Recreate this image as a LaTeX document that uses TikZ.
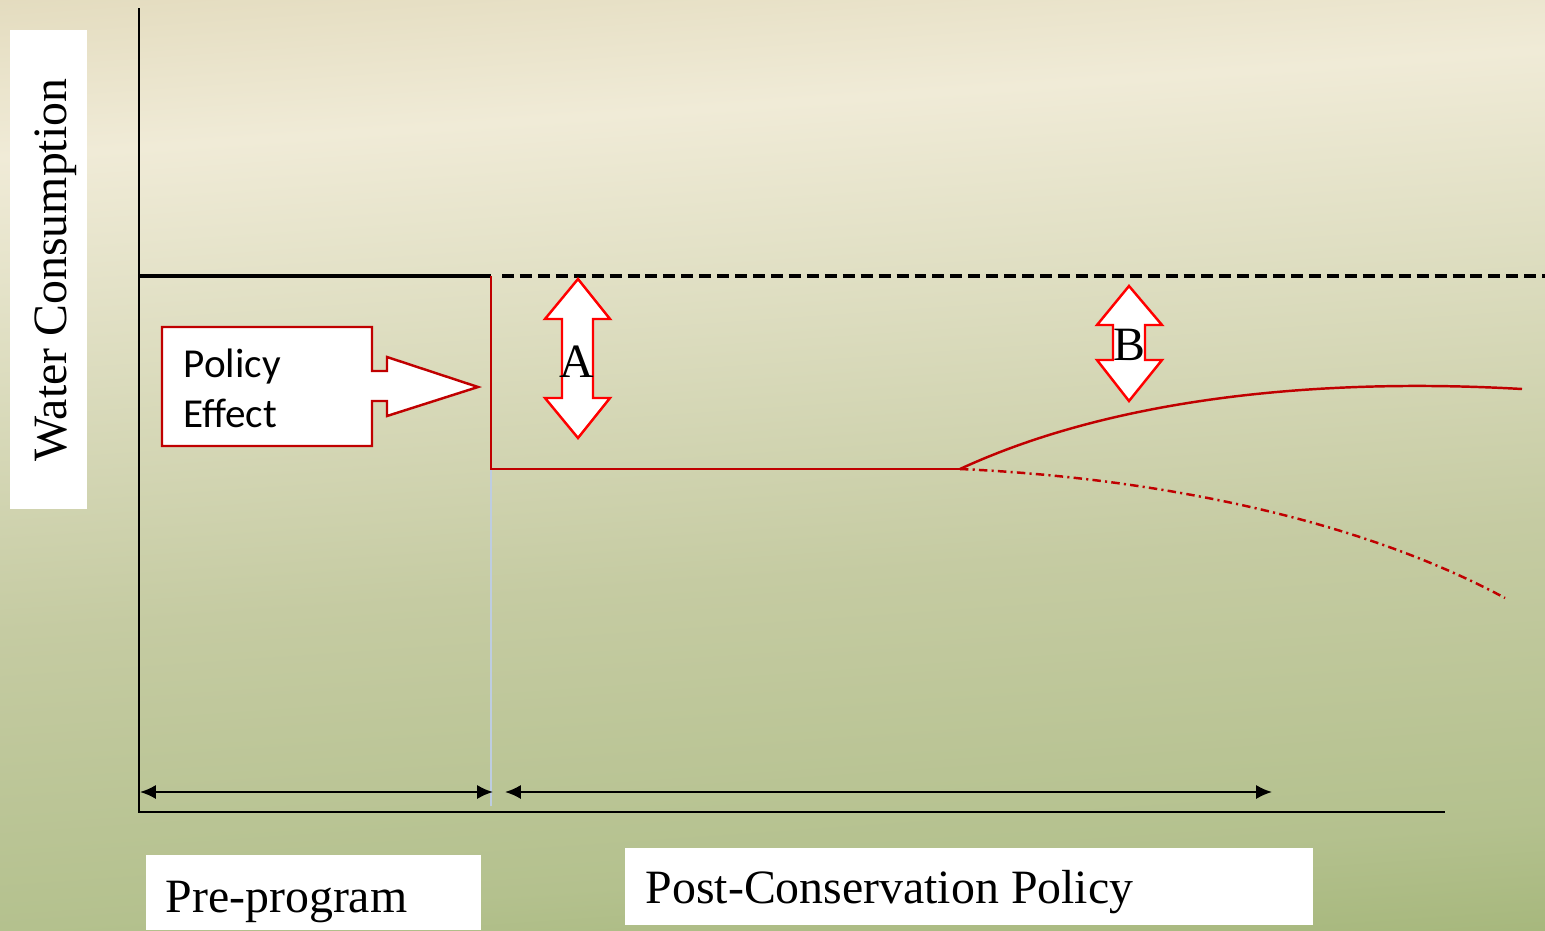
\documentclass[tikz,border=0pt]{standalone}
\usepackage{fontspec}
\setmainfont{Liberation Serif}
\newfontfamily\calibri{Carlito}
\usetikzlibrary{arrows.meta}

\definecolor{bgtan}{RGB}{226,218,188}
\definecolor{bgcream}{RGB}{240,235,215}
\definecolor{bgsage}{RGB}{197,203,162}
\definecolor{bgolive}{RGB}{180,193,142}
\definecolor{bggreen}{RGB}{163,181,120}
\definecolor{darkred}{RGB}{192,0,0}
\definecolor{gridblue}{RGB}{190,205,225}

% backdrop: tan at the top, a cream band, fading to olive green
\pgfdeclareverticalshading{backdrop}{100bp}{%
  color(0bp)=(bggreen); color(25bp)=(bggreen); color(31.4bp)=(bgolive);
  color(44.9bp)=(bgsage); color(66.4bp)=(bgcream); color(74.5bp)=(bgtan);
  color(100bp)=(bgtan)}

\tikzset{
  axis/.style={black, line width=0.6pt},
  baseline level/.style={black, line width=1.1pt},
  policy line/.style={darkred, line width=0.7pt},
  span arrow/.style={black, line width=0.6pt, {Latex[length=4.5pt,width=4pt]}-{Latex[length=4.5pt,width=4pt]}},
  gap arrow/.style={red, line width=0.7pt, fill=white, line join=miter},
  serif label/.style={font=\fontsize{13.6}{16}\selectfont, inner sep=0pt},
  callout text/.style={font=\calibri\fontsize{11.7}{14}\selectfont, inner sep=0pt}
}

\begin{document}
\begin{tikzpicture}[x=0.01cm, y=-0.01cm]
  % background
  \useasboundingbox (0,0) rectangle (1545,930);
  \begin{scope}
    \clip (0,0) rectangle (1545,930);
    \begin{scope}[transform canvas={rotate around={4:(772,465)}}]
      \shade[shading=backdrop] (-128,-85) rectangle (1672,1015);
    \end{scope}
  \end{scope}

  % axes
  \coordinate (origin) at (139,812);
  \coordinate (ytop) at (139,8);
  \coordinate (xend) at (1445,812);
  \draw[axis] (ytop) -- (origin) -- (xend);

  % vertical time marker
  \coordinate (mtop) at (491,469);
  \coordinate (mbot) at (491,806);
  \draw[gridblue, line width=0.5pt] (mtop) -- (mbot);

  % baseline consumption
  \coordinate (b0) at (139,276);
  \coordinate (b1) at (491,276);
  \coordinate (b2) at (502,276);
  \coordinate (b3) at (1545,276);
  \draw[baseline level] (b0) -- (b1);
  \draw[baseline level, dash pattern=on 3.4pt off 1.7pt] (b2) -- (b3);

  % consumption after the policy
  \coordinate (p0) at (491,276);
  \coordinate (p1) at (491,469);
  \coordinate (p2) at (960,469);
  \coordinate (rebound) at (1522,389);
  \coordinate (decline) at (1505,598);
  \draw[policy line] (p0) -- (p1) -- (p2);
  \draw[policy line] (p2) .. controls (1120,395) and (1330,378) .. (rebound);
  \draw[policy line, dash pattern=on 2.4pt off 1.2pt on 0.6pt off 1.2pt]
    (p2) .. controls (1160,478) and (1360,520) .. (decline);

  % period arrows
  \coordinate (s0) at (140,792);
  \coordinate (s1) at (493,792);
  \coordinate (s2) at (505,792);
  \coordinate (s3) at (1272,792);
  \draw[span arrow] (s0) -- (s1);
  \draw[span arrow] (s2) -- (s3);

  % policy effect callout
  \draw[darkred, line width=0.7pt, fill=white, line join=miter]
    (162,327) -- (372,327) -- (372,371) -- (387,371) -- (387,357) -- (478,387)
    -- (387,416) -- (387,401) -- (372,401) -- (372,446) -- (162,446) -- cycle;
  \node[callout text, anchor=base west] (pol) at (183,377) {Policy};
  \node[callout text, anchor=base west] (eff) at (183,427) {Effect};

  % gap A
  \draw[gap arrow]
    (578,279) -- (610,319) -- (593,319) -- (593,398) -- (610,398) -- (578,438)
    -- (545,398) -- (562,398) -- (562,319) -- (545,319) -- cycle;
  \node[serif label, anchor=base] (gapA) at (577,377) {A};

  % gap B
  \draw[gap arrow]
    (1129,286) -- (1162,325) -- (1145,325) -- (1145,360) -- (1162,360) -- (1129,401)
    -- (1097,360) -- (1113,360) -- (1113,325) -- (1097,325) -- cycle;
  \node[serif label, anchor=base] (gapB) at (1129,360) {B};

  % axis labels
  \fill[white] (10,30) rectangle (87,509);
  \node[serif label, rotate=90, anchor=base] (ylab) at (66,270) {Water Consumption};

  \fill[white] (146,855) rectangle (481,930);
  \node[serif label, anchor=base west] (pre) at (165,912) {Pre-program};

  \fill[white] (625,848) rectangle (1313,925);
  \node[serif label, anchor=base west] (post) at (645,903) {Post-Conservation Policy};
\end{tikzpicture}
\end{document}
